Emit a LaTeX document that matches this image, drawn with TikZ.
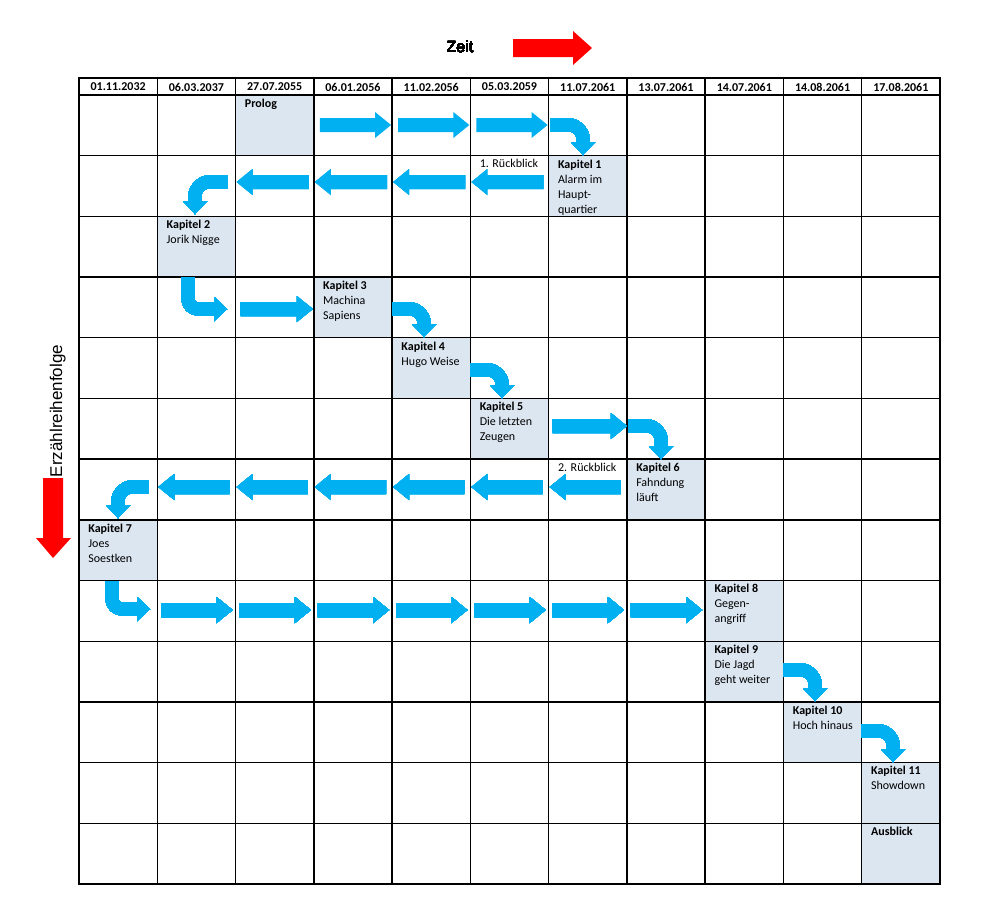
\documentclass[tikz,border=0pt]{standalone}
\usepackage{fontspec}
\setmainfont{Carlito}
\newfontfamily\arialfont{Liberation Sans}
\definecolor{pfeilblau}{RGB}{0,176,240}
\definecolor{kapfarbe}{RGB}{220,230,241}
\definecolor{zeitrot}{RGB}{255,0,0}
\tikzset{
  gitter/.style={line width=0.7pt, black, line cap=rect},
  kapbox/.style={fill=kapfarbe},
  kaptext/.style={anchor=north west, inner sep=0pt, align=left, font=\fontsize{6}{7.5}\selectfont},
  datum/.style={inner sep=0pt, font=\fontsize{6}{7.5}\selectfont\bfseries},
  bogen/.style={draw=pfeilblau, line width=6.5pt, rounded corners=7pt},
  knick/.style={bogen, rounded corners=5pt},
}
% block arrow: tail x, tip x, y, direction (1 right, -1 left)
\newcommand{\blockpfeil}[4]{%
  \fill[pfeilblau] ({#1},{#3-7}) -- ({#2-16*#4},{#3-7}) -- ({#2-16*#4},{#3-13})
    -- ({#2},{#3}) -- ({#2-16*#4},{#3+13}) -- ({#2-16*#4},{#3+7}) -- ({#1},{#3+7}) -- cycle;}
% bent arrow, sideways then down: start x, y, corner x, tip y
\newcommand{\bogenpfeil}[4]{%
  \draw[bogen] (#1,#2) -- (#3,#2) -- (#3,{#4-12});
  \fill[pfeilblau] ({#3-12},{#4-13}) -- ({#3+12},{#4-13}) -- (#3,#4) -- cycle;}
% bent arrow, down then right: x, start y, corner y, tip x
\newcommand{\knickpfeil}[4]{%
  \draw[knick] (#1,#2) -- (#1,#3) -- ({#4-12},#3);
  \fill[pfeilblau] ({#4-13},{#3-12}) -- ({#4-13},{#3+12}) -- (#4,#3) -- cycle;}
\begin{document}
\begin{tikzpicture}[x=0.5pt, y=-0.5pt]
    \useasboundingbox (0,0) rectangle (993,905);
    % chapter cells: column/row/name/text
    \foreach \col/\row/\kname/\txt in {
        2/0/prolog/{\textbf{Prolog}},
        6/1/k1/{\textbf{Kapitel 1}\\Alarm im\\Haupt-\\quartier},
        1/2/k2/{\textbf{Kapitel 2}\\Jorik Nigge},
        3/3/k3/{\textbf{Kapitel 3}\\Machina\\Sapiens},
        4/4/k4/{\textbf{Kapitel 4}\\Hugo Weise},
        5/5/k5/{\textbf{Kapitel 5}\\Die letzten\\Zeugen},
        7/6/k6/{\textbf{Kapitel 6}\\Fahndung\\läuft},
        0/7/k7/{\textbf{Kapitel 7}\\Joes\\Soestken},
        8/8/k8/{\textbf{Kapitel 8}\\Gegen-\\angriff},
        8/9/k9/{\textbf{Kapitel 9}\\Die Jagd\\geht weiter},
        9/10/k10/{\textbf{Kapitel 10}\\Hoch hinaus},
        10/11/k11/{\textbf{Kapitel 11}\\Showdown},
        10/12/ausblick/{\textbf{Ausblick}}} {
        \fill[kapbox] ({79+78.27*\col},{95+60.69*\row}) rectangle ++(78.27,60.69);
        \node[kaptext] (\kname) at ({79+78.27*\col+9},{95+60.69*\row+3.5}) {\txt};
    }
    \node[kaptext] (rb1) at ({79+78.27*5+9},{95+60.69*1+3.5}) {1. Rückblick};
    \node[kaptext] (rb2) at ({79+78.27*6+9},{95+60.69*6+3.5}) {2. Rückblick};
    % table grid
    \foreach \i in {0,...,11}
        \draw[gitter] ({79+78.27*\i},78) -- ({79+78.27*\i},884);
    \draw[gitter] (79,78) -- (940,78);
    \foreach \j in {0,...,13}
        \draw[gitter] (79,{95+60.69*\j}) -- (940,{95+60.69*\j});
    % dates
    \foreach \d [count=\i from 0] in {01.11.2032, 06.03.2037, 27.07.2055, 06.01.2056,
        11.02.2056, 05.03.2059, 11.07.2061, 13.07.2061, 14.07.2061, 14.08.2061, 17.08.2061}
        \node[datum] (d\i) at ({79+78.27*(\i+0.5)},87) {\d};
    % straight arrows
    \foreach \i in {3,4,5}
        \blockpfeil{79+78.27*\i+6}{79+78.27*(\i+1)-1}{125}{1}
    \foreach \i in {2,...,5}
        \blockpfeil{79+78.27*(\i+1)-5}{79+78.27*\i+1}{182}{-1}
    \blockpfeil{79+78.27*2+5}{79+78.27*3-1}{309}{1}
    \blockpfeil{79+78.27*6+4}{79+78.27*7}{426}{1}
    \foreach \i in {1,...,6}
        \blockpfeil{79+78.27*(\i+1)-6}{79+78.27*\i+1}{487}{-1}
    \foreach \i in {1,...,7}
        \blockpfeil{79+78.27*\i+4}{79+78.27*(\i+1)-3}{610}{1}
    % bent arrows
    \bogenpfeil{550}{125}{583}{155}
    \bogenpfeil{227}{182}{195}{214}
    \knickpfeil{188}{277}{309}{227}
    \bogenpfeil{392}{309}{424}{337}
    \bogenpfeil{470}{370}{502}{398}
    \bogenpfeil{628}{426}{661}{459}
    \bogenpfeil{148}{487}{118}{518}
    \knickpfeil{112}{581}{609}{150}
    \bogenpfeil{783}{670}{815}{701}
    \bogenpfeil{861}{731}{893}{762}
    % axis labels
    \node[anchor=base, inner sep=0pt, font=\arialfont\fontsize{8}{9}\selectfont] (zeit) at (460,52) {Zeit};
    \fill[zeitrot] (513,39) -- (573,39) -- (573,31) -- (592,48) -- (573,65) -- (573,57) -- (513,57) -- cycle;
    \node[anchor=base, inner sep=0pt, rotate=90, font=\arialfont\fontsize{8.5}{10}\selectfont] (folge) at (62,411) {Erzählreihenfolge};
    \fill[zeitrot] (43,478) -- (43,538) -- (36,538) -- (53,558) -- (71,538) -- (63,538) -- (63,478) -- cycle;
\end{tikzpicture}
\end{document}
